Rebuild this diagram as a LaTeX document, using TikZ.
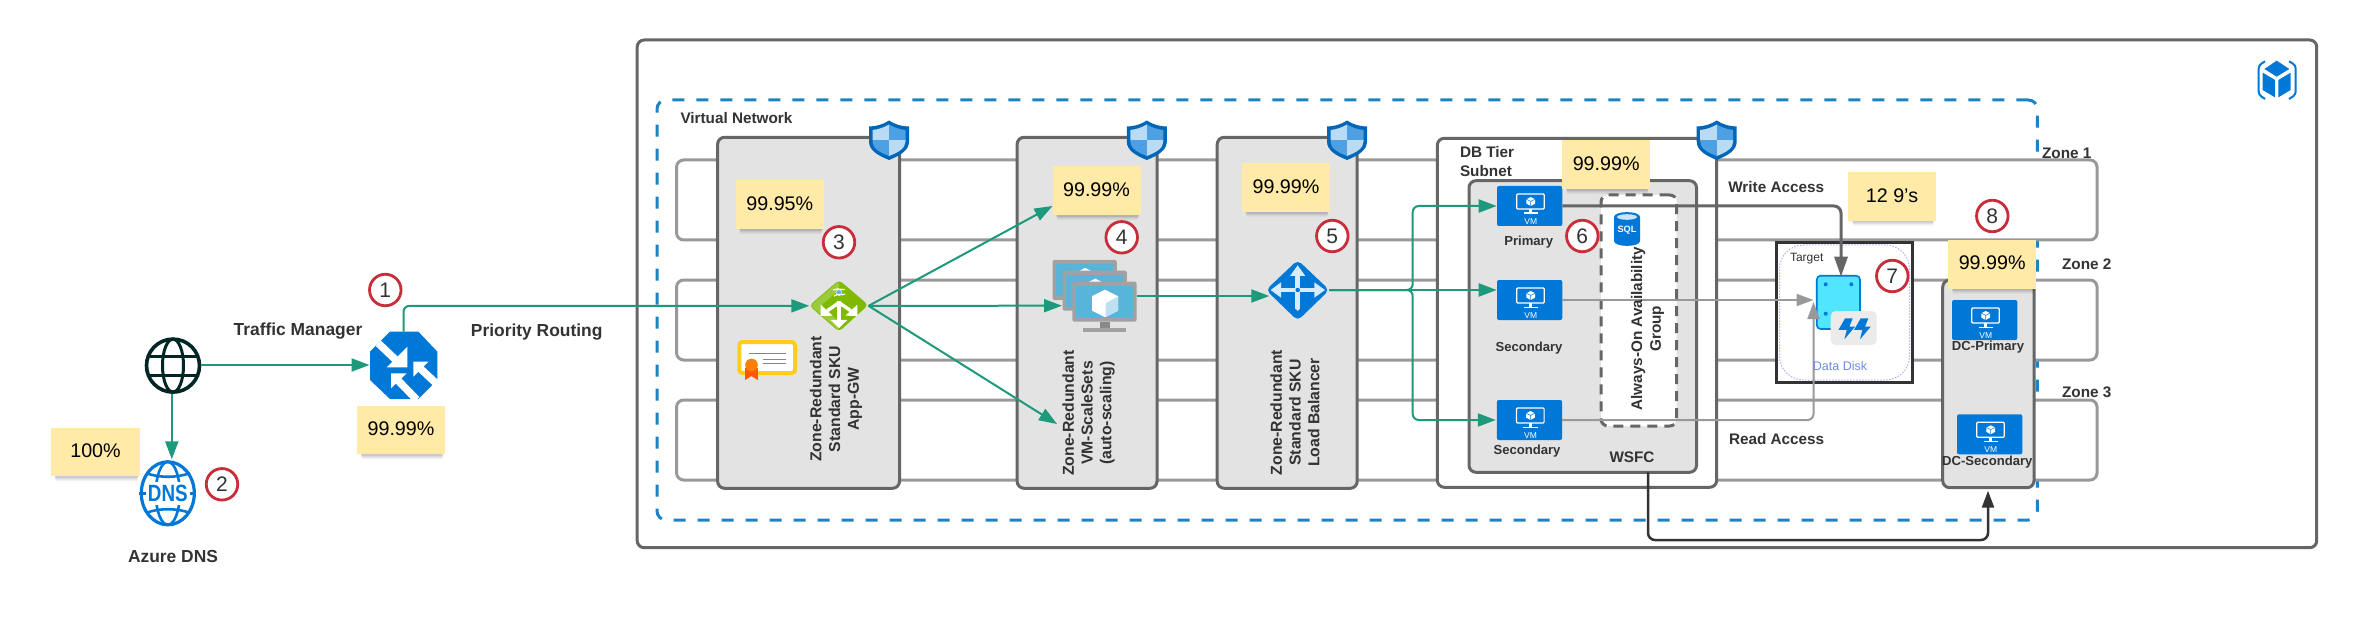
\documentclass[tikz,border=0pt]{standalone}
\usepackage{fontspec}
\setmainfont{Liberation Sans}
\usetikzlibrary{arrows.meta,shapes.geometric}
\definecolor{azure}{HTML}{0078D7}
\definecolor{flow}{HTML}{1C9A7B}
\definecolor{frameg}{HTML}{666666}
\definecolor{zoneg}{HTML}{999999}
\definecolor{panel}{HTML}{E3E3E3}
\definecolor{noteY}{HTML}{FFEAA7}
\definecolor{redc}{HTML}{C92D39}
\definecolor{ink}{HTML}{333333}
\definecolor{dashb}{HTML}{1B84C4}
\definecolor{vmssg}{HTML}{A0A1A2}
\definecolor{vmssb}{HTML}{59B4D9}
\definecolor{gwgreen}{HTML}{7FBA00}
\definecolor{gwlight}{HTML}{9BCB3C}
\tikzset{
  zerosep/.style={inner sep=0pt,outer sep=0pt},
  framebox/.style={zerosep,draw=frameg,line width=3pt,rounded corners=7pt},
  panelbox/.style={framebox,fill=panel},
  whitebox/.style={framebox,fill=white},
  zonebox/.style={zerosep,draw=zoneg,fill=white,line width=3pt,rounded corners=7pt},
  vnetbox/.style={zerosep,draw=dashb,line width=3pt,rounded corners=9pt,dash pattern=on 12pt off 12pt},
  aoagbox/.style={zerosep,draw=frameg,fill=white,line width=3pt,rounded corners=7pt,dash pattern=on 10pt off 7pt},
  notebox/.style={zerosep,fill=noteY,text=black,font=\fontsize{19.7}{22}\selectfont},
  numc/.style={circle,zerosep,draw=redc,fill=white,line width=2.8pt,minimum size=31.5pt,text=ink,font=\fontsize{21}{24}\selectfont},
  lab/.style={zerosep,text=ink,font=\fontsize{15.3}{18.6}\selectfont\bfseries},
  biglab/.style={zerosep,text=ink,font=\fontsize{17.4}{20}\selectfont\bfseries},
  smalllab/.style={zerosep,text=ink,font=\fontsize{13.1}{16}\selectfont\bfseries},
  vertlab/.style={zerosep,text=ink,rotate=90,align=center,font=\fontsize{15.8}{18.8}\selectfont\bfseries},
  iconbox/.style={zerosep},
  vmbox/.style={zerosep,fill=azure,rounded corners=2pt},
  greenline/.style={draw=flow,line width=2pt,-{Triangle[length=18pt,width=13pt]}},
  greenplain/.style={draw=flow,line width=2pt},
  greyline/.style={draw=frameg,line width=3pt,-{Triangle[length=20pt,width=13pt]}},
  thinline/.style={draw=zoneg,line width=2pt,-{Triangle[length=17pt,width=12pt]}},
  darkline/.style={draw=ink,line width=2.5pt,-{Triangle[length=17pt,width=12pt]}},
}
% rectangle node given by its corners
\newcommand\rnode[7][]{%
  \pgfmathsetmacro\rnX{(#3+#5)/2}\pgfmathsetmacro\rnY{(#4+#6)/2}%
  \pgfmathsetmacro\rnW{#5-(#3)}\pgfmathsetmacro\rnH{#6-(#4)}%
  \node[#2,minimum width=\rnW pt,minimum height=\rnH pt] (#1) at (\rnX,\rnY) {#7};}
\newcommand\stickynote[6]{%
  \pgfmathsetmacro\snA{#2+4}\pgfmathsetmacro\snB{#4-2}%
  \pgfmathsetmacro\snC{#5+2}\pgfmathsetmacro\snD{#5+3.5}\pgfmathsetmacro\snE{#5+5}%
  \fill[black,opacity=.09,rounded corners=1.5pt] (\snA,#5-2) rectangle (\snB,\snC);
  \fill[black,opacity=.08,rounded corners=1.5pt] (\snA,#5-2) rectangle (\snB,\snD);
  \fill[black,opacity=.05,rounded corners=1.5pt] (\snA,#5-2) rectangle (\snB,\snE);
  \rnode[#1]{notebox}{#2}{#3}{#4}{#5}{\raisebox{2.5pt}{#6}}}
\newcommand\vmicon[3]{%
  \rnode[#1]{vmbox}{#2}{#3}{#2+65.3}{#3+40}{}
  \begin{scope}[shift={(#2,#3)}]
    \draw[white,line width=1.2pt,rounded corners=1pt] (19.7,8) rectangle (47.3,23);
    \fill[white] (32,23) rectangle (35.4,26.5);
    \fill[white] (26.5,26.5) rectangle (41,27.8);
    \fill[white] (33.7,11) -- (38,13.2) -- (38,17.6) -- (33.7,20) -- (29.4,17.6) -- (29.4,13.2) -- cycle;
    \draw[azure,line width=.5pt] (29.4,13.2) -- (33.7,15.4) -- (38,13.2) (33.7,15.4) -- (33.7,20);
    \node[zerosep,text=white,font=\fontsize{8.5}{10}\selectfont] (#1-vm) at (33.7,35.3) {VM};
  \end{scope}}
\newcommand\shieldicon[3]{%
  \rnode[#1]{iconbox}{#2-20}{#3}{#2+20}{#3+39}{}
  \begin{scope}[shift={(#2-20,#3)}]
    \fill[azure!85!black] (20,0) .. controls (26,4) and (33,6) .. (40,6) -- (40,21) .. controls (40,30) and (31,35) .. (20,39.5) .. controls (9,35) and (0,30) .. (0,21) -- (0,6) .. controls (7,6) and (14,4) .. (20,0) -- cycle;
    \begin{scope}
      \clip (20,4) .. controls (25,7) and (31,9) .. (36.5,9.5) -- (36.5,21) .. controls (36.5,28) and (29,32) .. (20,35.5) .. controls (11,32) and (3.5,28) .. (3.5,21) -- (3.5,9.5) .. controls (9,9) and (15,7) .. (20,4) -- cycle;
      \fill[white!70!azure!90!white] (0,0) rectangle (20,20);
      \fill[azure!70!white] (20,0) rectangle (40,20);
      \fill[azure!70!white] (0,20) rectangle (20,40);
      \fill[white!70!azure!90!white] (20,20) rectangle (40,40);
    \end{scope}
  \end{scope}}
\newcommand\screen[3]{%
  \fill[vmssg,rounded corners=2pt] (#1,#2) rectangle (#1+64.3,#2+40);
  \fill[vmssb] (#1+3.5,#2+4) rectangle (#1+60.8,#2+36);
  \fill[#3] (#1+32.7,#2+8) -- (#1+45.7,#2+14.5) -- (#1+45.7,#2+29) -- (#1+32.7,#2+35.5) -- (#1+19.7,#2+29) -- (#1+19.7,#2+14.5) -- cycle;
  \fill[#3!60!vmssb] (#1+33.4,#2+21.5) -- (#1+45.7,#2+14.8) -- (#1+45.7,#2+29) -- (#1+33.4,#2+35.5) -- cycle;
}
\begin{document}
\begin{tikzpicture}[x=1pt,y=-1pt]
\useasboundingbox (0,0) rectangle (2357,620);
\fill[white] (0,0) rectangle (2357,620);

% ---------- containers ----------
\rnode[outer]{framebox}{637.2}{40}{2316.7}{547.7}{}
\rnode[vnet]{vnetbox}{657}{100}{2037.3}{520}{}
\rnode[zoneA]{zonebox}{676.6}{160}{2097}{240}{}
\rnode[zoneB]{zonebox}{676.6}{280}{2097}{360}{}
\rnode[zoneC]{zonebox}{676.6}{400}{2097}{480}{}
\rnode[appbox]{panelbox}{717.6}{137.3}{899.5}{488.3}{}
\rnode[vmssbox]{panelbox}{1017.1}{137.3}{1157}{488.3}{}
\rnode[lbbox]{panelbox}{1217.2}{137.3}{1357.2}{488.3}{}
\rnode[dbtier]{whitebox}{1437.3}{138.3}{1716.7}{487.3}{}
\rnode[wsfc]{panelbox}{1469}{180.7}{1696.5}{472.3}{}
\rnode[aoag]{aoagbox}{1601}{195}{1676.7}{426}{}
\rnode[dcbox]{panelbox}{1942.7}{280}{2034}{487.7}{}
\rnode[target]{zerosep,draw=ink,fill=white,line width=2.6pt}{1776.7}{242.3}{1912.3}{382.7}{}
\rnode[targetin]{zerosep,draw=blue!30!white,line width=1pt,rounded corners=24pt,dash pattern=on 1.5pt off 1.5pt}{1779.5}{245}{1909.5}{380}{}

% ---------- shields ----------
\shieldicon{shA}{889}{120.5}
\shieldicon{shB}{1146.8}{120.5}
\shieldicon{shC}{1347}{120.5}
\shieldicon{shD}{1716.7}{120.5}

% ---------- Azure cube, top right ----------
\rnode[cube]{iconbox}{2258}{60}{2297}{100}{}
\begin{scope}[shift={(2150,20)},scale=.33333]
  \fill[azure] (380,122) -- (418,147) -- (380,170) -- (343,147) -- cycle;
  \fill[azure] (338,158) -- (375,180) -- (375,232) -- (338,210) -- cycle;
  \fill[azure] (385,180) -- (422,158) -- (422,210) -- (385,232) -- cycle;
  \draw[azure,line width=2pt,rounded corners=3pt] (345,124) -- (326,136) -- (326,224) -- (345,237);
  \draw[azure,line width=2pt,rounded corners=3pt] (417,124) -- (437,136) -- (437,224) -- (417,237);
\end{scope}

% ---------- globe ----------
\node[iconbox,circle,minimum size=56pt] (globe) at (173,365.6) {};
\draw[draw=black!70!teal,line width=3.6pt] (173,365.6) circle[radius=26.5pt];
\draw[draw=black!70!teal,line width=3pt] (173,365.6) ellipse[x radius=10.5pt,y radius=26.5pt];
\draw[draw=black!70!teal,line width=3pt] (149.5,356.7) -- (196.5,356.7) (149.5,375) -- (196.5,375);

% ---------- DNS ----------
\node[iconbox,ellipse,minimum width=56pt,minimum height=66pt] (dns) at (167.8,493.3) {};
\draw[azure,line width=3.2pt] (167.8,493.3) ellipse[x radius=26.5pt,y radius=31.5pt];
\draw[azure,line width=2.6pt] (167.8,493.3) ellipse[x radius=12pt,y radius=31.5pt];
\draw[azure,line width=2.6pt] (146,473) .. controls (158,478) and (178,478) .. (190,473);
\draw[azure,line width=2.6pt] (146,513) .. controls (158,508) and (178,508) .. (190,513);
\fill[white] (146,482) rectangle (190,505);
\draw[azure,line width=2.6pt] (139,493.3) -- (146,493.3) (190,493.3) -- (196,493.3);
\node[zerosep,text=azure,xscale=.8,font=\fontsize{23.5}{25}\selectfont\bfseries] (dnstext) at (167.8,493.3) {DNS};

% ---------- Traffic Manager icon ----------
\rnode[tm]{iconbox}{369.5}{331.7}{437.5}{399}{}
\begin{scope}[shift={(360,325)},scale=.33333]
  \fill[azure] (90,20) -- (175,20) -- (232,80) -- (232,165) -- (175,222) -- (90,222) -- (30,165) -- (30,80) -- cycle;
  \draw[white,line width=7.5pt] (55,55) -- (115,112);
  \fill[white] (142,65) -- (142,127) -- (80,127) -- cycle;
  \draw[white,line width=7.5pt] (175,125) -- (236,182);
  \fill[white] (160,110) -- (205,110) -- (160,155) -- cycle;
  \draw[white,line width=7.5pt] (108,160) -- (170,224);
  \fill[white] (93,145) -- (140,145) -- (93,190) -- cycle;
\end{scope}

% ---------- App gateway icon ----------
\rnode[gw]{iconbox}{809.3}{280}{868.6}{331.7}{}
\begin{scope}[shift={(800,270)},scale=.33333]
  \fill[gwgreen,rounded corners=4pt] (28,107) -- (117,30) -- (205,105) -- (117,185) -- cycle;
  \fill[gwlight,rounded corners=3pt] (32,107) -- (117,33) -- (117,60) -- (62,107) -- (117,155) -- (117,182) -- cycle;
  \draw[white,line width=3.4pt] (117,92) -- (117,155);
  \fill[white] (92,150) -- (142,150) -- (117,174) -- cycle;
  \draw[white,line width=3.4pt] (117,98) -- (82,122);
  \fill[white] (62,104) -- (98,137) -- (62,138) -- cycle;
  \draw[white,line width=3.4pt] (117,98) -- (152,122);
  \fill[white] (172,104) -- (136,137) -- (172,138) -- cycle;
  \fill[white] (117,68) circle[radius=9.5pt];
  \fill[vmssb] (117,68) circle[radius=7.8pt];
  \draw[white,line width=1.2pt] (100,60) .. controls (115,52) and (128,62) .. (134,58);
  \draw[white,line width=1.2pt] (102,78) .. controls (115,68) and (125,78) .. (135,72);
\end{scope}

% ---------- certificate ----------
\rnode[cert]{zerosep,draw={rgb,255:red,255;green,205;blue,26},fill=white,line width=4pt,rounded corners=3pt}{739.3}{342}{795}{373}{}
\draw[frameg!80!white,line width=1.2pt] (748.6,353.3) -- (785.8,353.3) (762.9,359.3) -- (785.8,359.3) (762.9,363.3) -- (785.8,363.3);
\fill[orange!70!red] (745,368) -- (757.8,368) -- (757.8,380) -- (751.4,376) -- (745,380) -- cycle;
\fill[orange] (751.5,365) circle[radius=6.3pt];

% ---------- VMSS icon ----------
\rnode[vmss]{iconbox}{1072.3}{281.7}{1136.6}{332}{}
\screen{1052.5}{260}{white}
\screen{1062.5}{270.7}{white}
\screen{1072.3}{281.7}{white}
\fill[vmssg!85!black] (1100,321.7) rectangle (1110,328);
\fill[vmssg] (1083,328) rectangle (1126,332);

% ---------- Load balancer icon ----------
\rnode[lb]{iconbox}{1266}{260}{1329.3}{320.7}{}
\begin{scope}[shift={(1130,110)},scale=.33333]
  \fill[azure,rounded corners=5pt] (408,540) -- (503,450) -- (598,540) -- (503,632) -- cycle;
  \draw[white!85!azure,line width=4.5pt] (445,540) -- (561,540) (503,490) -- (503,597);
  \fill[white!85!azure] (422,540) -- (453,517) -- (453,563) -- cycle;
  \fill[white!85!azure] (585,540) -- (553,517) -- (553,563) -- cycle;
  \fill[white!85!azure] (503,466) -- (480,498) -- (526,498) -- cycle;
  \fill[white!85!azure] (503,597) circle[radius=5.6pt];
  \fill[white!85!azure] (503,540) circle[radius=9.5pt];
  \fill[azure] (503,540) circle[radius=6.6pt];
\end{scope}

% ---------- VMs ----------
\vmicon{vmP}{1497}{186}
\vmicon{vmA}{1497}{280}
\vmicon{vmB}{1496.8}{400}
\vmicon{dcP}{1952}{300}
\vmicon{dcS}{1957}{414.3}

% ---------- SQL ----------
\node[iconbox,minimum width=26pt,minimum height=34pt] (sql) at (1627,229) {};
\fill[azure] (1614,217) -- (1614,241) .. controls (1614,247.5) and (1640,247.5) .. (1640,241) -- (1640,217) .. controls (1640,210.5) and (1614,210.5) .. cycle;
\fill[white!80!azure] (1627,217) ellipse[x radius=10pt,y radius=2.8pt];
\node[zerosep,text=white,font=\fontsize{9.2}{11}\selectfont\bfseries] (sqltext) at (1627,230) {SQL};

% ---------- data disk ----------
\rnode[disk]{zerosep,draw=azure,fill={rgb,255:red,80;green,230;blue,255},line width=1.6pt,rounded corners=4pt}{1816.7}{275.7}{1860}{329}{}
\fill[azure] (1825.7,284.3) circle[radius=2pt] (1851.3,284.3) circle[radius=2pt] (1825.7,313.7) circle[radius=2pt];
\rnode[badge]{zerosep,fill=black!8,rounded corners=5pt}{1830.7}{311}{1876.7}{345}{}
\begin{scope}[shift={(1750,130)},scale=.33333]
  \fill[azure] (285,565) -- (308,565) -- (298,590) -- (315,590) -- (283,628) -- (290,600) -- (265,600) -- cycle;
  \fill[azure] (332,565) -- (355,565) -- (345,590) -- (362,590) -- (330,628) -- (337,600) -- (312,600) -- cycle;
\end{scope}

% ---------- connector ends ----------
\coordinate (tipNoteB) at (1052.5,206);
\coordinate (tipVmssMid) at (1062,305.7);
\coordinate (tipVmssLow) at (1057,424);
\coordinate (vmssOut) at (1136.6,296);
\coordinate (lbIn) at (1269.3,296);
\coordinate (busX) at (1412.7,290);
\coordinate (lbOut) at (1329.3,290);
\coordinate (inP) at (1496.7,206);
\coordinate (inA) at (1496.7,290);
\coordinate (inB) at (1495.8,420);
\coordinate (diskW) at (1841,276.7);
\coordinate (diskSideA) at (1813.5,300);
\coordinate (diskSideB) at (1813.5,302);
\coordinate (wsfcOut) at (1648,472.3);
\coordinate (dcIn) at (1988,490.7);

% ---------- connectors ----------
\draw[greenline] (globe.east |- 0,365) -- (tm.west |- 0,365);
\draw[greenline] (171.8,394.3) -- (171.8,459.3);
\draw[greenplain,rounded corners=6pt,-{Triangle[length=18pt,width=13pt]}] (tm.north) |- (gw.west);
\draw[greenline] (gw.east) -- (tipNoteB);
\draw[greenline] (gw.east) -- (tipVmssMid);
\draw[greenline] (gw.east) -- (tipVmssLow);
\draw[greenline] (vmssOut) -- (lbIn);
\draw[greenplain,rounded corners=6pt,-{Triangle[length=18pt,width=13pt]}] (lbOut) -- (busX) |- (inP);
\draw[greenline] (lbOut) -- (inA);
\draw[greenplain,rounded corners=6pt,-{Triangle[length=18pt,width=13pt]}] (lbOut) -- (busX) |- (inB);
\draw[greyline,rounded corners=7pt] (vmP.east |- inP) -| (diskW);
\draw[thinline] (vmA.east |- diskSideA) -- (diskSideA);
\draw[thinline,rounded corners=6pt] (vmB.east |- inB) -| (diskSideB);
\draw[darkline,rounded corners=7pt] (wsfcOut) |- (1988,540) -- (dcIn);

% ---------- sticky notes ----------
\stickynote{noteTm}{357}{406}{445}{454}{99.99\%}
\stickynote{noteDns}{51}{428}{140}{476}{100\%}
\stickynote{noteApp}{735.6}{180}{824}{229}{99.95\%}
\stickynote{noteVmss}{1052.5}{166}{1140.5}{215}{99.99\%}
\stickynote{noteLb}{1242}{163.3}{1330}{211.7}{99.99\%}
\stickynote{noteDb}{1562.3}{140}{1650}{189}{99.99\%}
\stickynote{noteDisk}{1848.3}{172.3}{1935.7}{220.7}{12 9's}
\stickynote{noteDc}{1948.3}{240}{2036}{288.7}{99.99\%}

% ---------- numbered circles ----------
\node[numc] (c1) at (385.3,290) {1};
\node[numc] (c2) at (222,484.3) {2};
\node[numc] (c3) at (839,242.3) {3};
\node[numc] (c4) at (1121.7,237.3) {4};
\node[numc] (c5) at (1332.3,236) {5};
\node[numc] (c6) at (1582.3,236) {6};
\node[numc] (c7) at (1892.3,276) {7};
\node[numc] (c8) at (1992.3,216) {8};

% ---------- labels ----------
\node[biglab] (lTm) at (298,331) {Traffic Manager};
\node[biglab] (lPr) at (536.7,331.7) {Priority Routing};
\node[biglab] (lDns) at (173,556.7) {Azure DNS};
\node[lab,anchor=west] (lVn) at (680.5,117.7) {Virtual Network};
\node[lab] (lZ1) at (2066.7,153.3) {Zone 1};
\node[lab] (lZ2) at (2086.7,264) {Zone 2};
\node[lab] (lZ3) at (2086.7,392.3) {Zone 3};
\node[vertlab] (lApp) at (836,399) {Zone-Redundant\\Standard SKU\\App-GW};
\node[vertlab] (lVmss) at (1088.5,413) {Zone-Redundant\\VM-ScaleSets\\(auto-scaling)};
\node[vertlab] (lLb) at (1295,412.5) {Zone-Redundant\\Standard SKU\\Load Balancer};
\node[vertlab,font=\fontsize{15.3}{18.6}\selectfont\bfseries] (lAo) at (1647.5,328.7) {Always-On Availability\\Group};
\node[lab,anchor=west,align=left] (lDb) at (1460,161.6) {DB Tier\\Subnet};
\node[smalllab] (lP) at (1528.7,241.7) {Primary};
\node[smalllab] (lS1) at (1529,348.3) {Secondary};
\node[smalllab] (lS2) at (1527,450.7) {Secondary};
\node[lab] (lWs) at (1632,457.3) {WSFC};
\node[lab,anchor=west] (lWr) at (1728.3,186.7) {Write Access};
\node[lab,anchor=west] (lRd) at (1729,439.3) {Read Access};
\node[smalllab] (lDp) at (1988,347.3) {DC-Primary};
\node[smalllab] (lDs) at (1987.3,461.7) {DC-Secondary};
\node[zerosep,text=ink,font=\fontsize{12}{14}\selectfont] (lT) at (1806.7,258.3) {Target};
\node[zerosep,text={rgb,255:red,107;green,143;blue,216},font=\fontsize{12.5}{14}\selectfont] (lDd) at (1840,365.7) {Data Disk};
\end{tikzpicture}
\end{document}
